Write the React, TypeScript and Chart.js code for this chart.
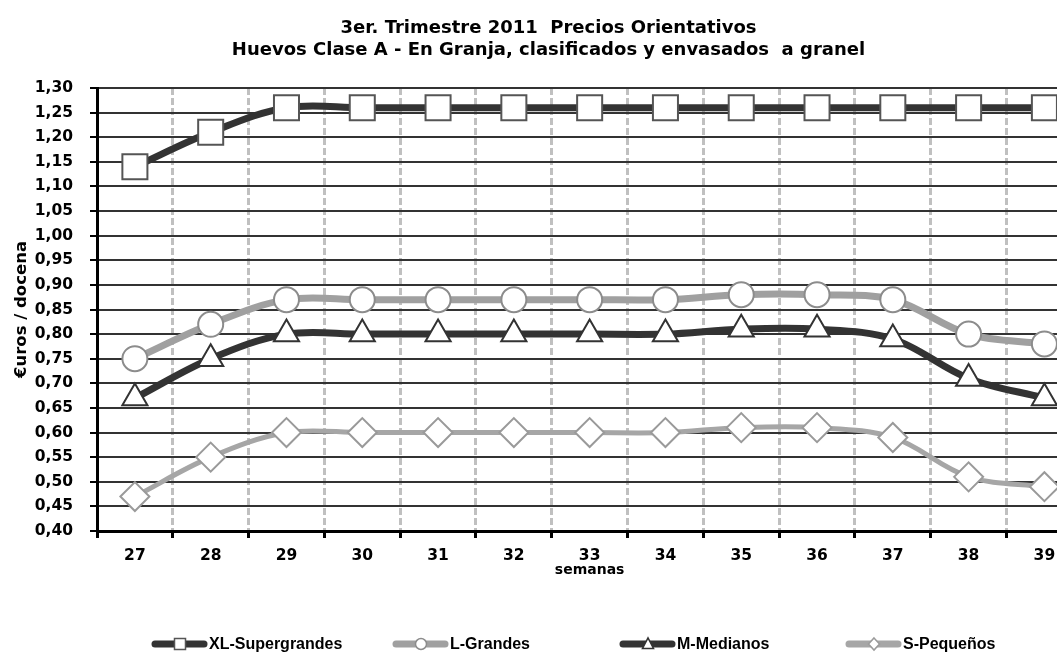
import React, { useEffect, useRef } from 'react';
import { Chart, registerables } from 'chart.js';

Chart.register(...registerables);

// ---- data ----
const weeks = ['27', '28', '29', '30', '31', '32', '33', '34', '35', '36', '37', '38', '39'];
const xlSupergrandes = [1.14, 1.21, 1.26, 1.26, 1.26, 1.26, 1.26, 1.26, 1.26, 1.26, 1.26, 1.26, 1.26];
const lGrandes = [0.75, 0.82, 0.87, 0.87, 0.87, 0.87, 0.87, 0.87, 0.88, 0.88, 0.87, 0.80, 0.78];
const mMedianos = [0.67, 0.75, 0.80, 0.80, 0.80, 0.80, 0.80, 0.80, 0.81, 0.81, 0.79, 0.71, 0.67];
const sPequenos = [0.47, 0.55, 0.60, 0.60, 0.60, 0.60, 0.60, 0.60, 0.61, 0.61, 0.59, 0.51, 0.49];
const seriesNames = ['XL-Supergrandes', 'L-Grandes', 'M-Medianos', 'S-Pequeños'];
const yTickValues = [0.40, 0.45, 0.50, 0.55, 0.60, 0.65, 0.70, 0.75, 0.80, 0.85, 0.90, 0.95, 1.00, 1.05, 1.10, 1.15, 1.20, 1.25, 1.30];
const titleLines = ['3er. Trimestre 2011  Precios Orientativos', 'Huevos Clase A - En Granja, clasificados y envasados  a granel'];
const yAxisTitle = '€uros / docena';
const xAxisTitle = 'semanas';

const CANVAS_W = 1102;
const CANVAS_H = 655;

const tickFont = { family: '"DejaVu Sans", sans-serif', size: 15.5, weight: 'bold' as const };

function drawMarker(ctx: CanvasRenderingContext2D, style: string, x: number, y: number, r: number, border: string) {
  ctx.save();
  ctx.fillStyle = '#ffffff';
  ctx.strokeStyle = border;
  ctx.lineWidth = 1.5;
  ctx.beginPath();
  if (style === 'rect') {
    ctx.rect(x - r, y - r, 2 * r, 2 * r);
  } else if (style === 'circle') {
    ctx.arc(x, y, r, 0, Math.PI * 2);
  } else if (style === 'triangle') {
    ctx.moveTo(x, y - r * 1.1);
    ctx.lineTo(x + r, y + r * 0.8);
    ctx.lineTo(x - r, y + r * 0.8);
    ctx.closePath();
  } else {
    ctx.moveTo(x, y - r * 1.1);
    ctx.lineTo(x + r, y);
    ctx.lineTo(x, y + r * 1.1);
    ctx.lineTo(x - r, y);
    ctx.closePath();
  }
  ctx.fill();
  ctx.stroke();
  ctx.restore();
}

const legendStarts = [151, 392, 619, 845];

const excelLegend = {
  id: 'excelLegend',
  afterDraw(chart: any) {
    const ctx: CanvasRenderingContext2D = chart.ctx;
    const y = 644;
    chart.data.datasets.forEach((ds: any, i: number) => {
      const x0 = legendStarts[i];
      ctx.save();
      ctx.strokeStyle = ds.borderColor;
      ctx.lineWidth = 7;
      ctx.lineCap = 'round';
      ctx.beginPath();
      ctx.moveTo(x0 + 4, y);
      ctx.lineTo(x0 + 53, y);
      ctx.stroke();
      drawMarker(ctx, ds.pointStyle, x0 + 29, y, 5.5, ds.pointBorderColor);
      ctx.fillStyle = '#000';
      ctx.font = 'bold 16px "Liberation Sans Narrow", "Liberation Sans", Arial, sans-serif';
      ctx.textBaseline = 'middle';
      ctx.textAlign = 'left';
      ctx.fillText(ds.label, x0 + 58, y + 1);
      ctx.restore();
    });
  },
};

export default function App() {
  const canvasRef = useRef<HTMLCanvasElement | null>(null);

  useEffect(() => {
    document.body.style.margin = '0';
    document.body.style.overflow = 'hidden';
    const canvas = canvasRef.current;
    if (!canvas) return;
    const chart = new Chart(canvas, {
      type: 'line',
      data: {
        labels: weeks,
        datasets: [
          {
            label: seriesNames[0],
            data: xlSupergrandes,
            borderColor: '#333333',
            borderWidth: 7,
            pointStyle: 'rect',
            pointRadius: 17.7,
            pointBackgroundColor: '#ffffff',
            pointBorderColor: '#555555',
            pointBorderWidth: 2,
            tension: 0.35,
          },
          {
            label: seriesNames[1],
            data: lGrandes,
            borderColor: '#a0a0a0',
            borderWidth: 7,
            pointStyle: 'circle',
            pointRadius: 12.5,
            pointBackgroundColor: '#ffffff',
            pointBorderColor: '#8c8c8c',
            pointBorderWidth: 2,
            tension: 0.35,
          },
          {
            label: seriesNames[2],
            data: mMedianos,
            borderColor: '#333333',
            borderWidth: 7,
            pointStyle: 'triangle',
            pointRadius: 14.5,
            pointBackgroundColor: '#ffffff',
            pointBorderColor: '#333333',
            pointBorderWidth: 2,
            tension: 0.35,
          },
          {
            label: seriesNames[3],
            data: sPequenos,
            borderColor: '#a6a6a6',
            borderWidth: 5,
            pointStyle: 'rectRot',
            pointRadius: 14.5,
            pointBackgroundColor: '#ffffff',
            pointBorderColor: '#9a9a9a',
            pointBorderWidth: 2,
            tension: 0.35,
          },
        ],
      },
      options: {
        animation: false,
        responsive: false,
        maintainAspectRatio: false,
        layout: { padding: { left: 5, right: 10, top: 0, bottom: 76 } },
        plugins: {
          legend: { display: false },
          tooltip: { enabled: false },
          title: {
            display: true,
            text: titleLines,
            color: '#000',
            font: { family: '"DejaVu Sans", sans-serif', size: 18, weight: 'bold', lineHeight: 1.2 },
            padding: { top: 18, bottom: 26.8 },
          },
        },
        scales: {
          x: {
            type: 'category',
            offset: true,
            grid: {
              offset: true,
              color: (c: any) => (c.index === 0 ? 'rgba(0,0,0,0)' : '#c0c0c0'),
              lineWidth: 3,
              tickColor: '#000',
              tickWidth: 3,
              tickLength: 7,
              tickBorderDash: [],
            } as any,
            border: { color: '#000', width: 3, dash: [7, 3] },
            ticks: { color: '#000', font: tickFont, padding: 9, maxRotation: 0, autoSkip: false },
            title: {
              display: true,
              text: xAxisTitle,
              color: '#000',
              font: { family: '"DejaVu Sans", sans-serif', size: 14, weight: 'bold', lineHeight: 1.2 },
              padding: 0,
            },
            afterFit: (s: any) => {
              s.height = 48;
            },
          },
          y: {
            min: 0.4,
            max: 1.3,
            afterBuildTicks: (s: any) => {
              s.ticks = yTickValues.map((v) => ({ value: v }));
            },
            grid: { color: '#333333', lineWidth: 2, tickColor: '#000', tickWidth: 2, tickLength: 7 },
            border: { color: '#000', width: 3 },
            ticks: {
              color: '#000',
              font: tickFont,
              padding: 17,
              callback: (v: any) => Number(v).toFixed(2).replace('.', ','),
            },
            title: {
              display: true,
              text: yAxisTitle,
              color: '#000',
              font: { family: '"DejaVu Sans", sans-serif', size: 16.5, weight: 'bold', lineHeight: 1.2 },
              padding: { top: 7, bottom: 0 },
            },
            afterFit: (s: any) => {
              s.width = 92;
            },
          },
        },
      },
      plugins: [excelLegend],
    });
    return () => chart.destroy();
  }, []);

  return (
    <div style={{ width: 1057, height: 655, overflow: 'hidden', background: '#fff' }}>
      <canvas ref={canvasRef} width={CANVAS_W} height={CANVAS_H} style={{ display: 'block' }} />
    </div>
  );
}
